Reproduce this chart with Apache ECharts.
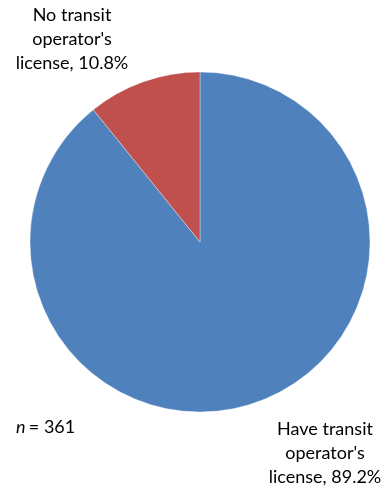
<!DOCTYPE html>
<html>
<head>
<meta charset="utf-8">
<script src="https://cdn.jsdelivr.net/npm/echarts@6/dist/echarts.min.js"></script>
<style>
html,body{margin:0;padding:0;background:#fff;}
#c{width:387px;height:488px;}
</style>
</head>
<body>
<div id="c"></div>
<script>
const categories = ["Have transit\noperator's\nlicense", "No transit\noperator's\nlicense"];
const values = [89.2, 10.8];
const colors = ['#4F81BD', '#C0504D'];
const sampleNote = '361';

const chart = echarts.init(document.getElementById('c'));
const labelPos = [
  {x: 325, y: 453},
  {x: 72, y: 39}
];
chart.setOption({
  animation: false,
  textStyle: {fontFamily: 'Lato'},
  series: [{
    type: 'pie',
    center: [200, 242],
    radius: [0, 170],
    startAngle: 90,
    clockwise: true,
    silent: true,
    data: categories.map((c, i) => ({
      name: c, value: values[i],
      itemStyle: {color: colors[i]}
    })),
    itemStyle: {borderColor: 'rgba(255,255,255,0.6)', borderWidth: 0.6},
    label: {
      show: true,
      position: 'outside',
      formatter: p => p.name + ', ' + p.value.toFixed(1) + '%',
      fontFamily: 'Lato',
      fontSize: 18,
      lineHeight: 24,
      color: '#000',
      align: 'center',
      overflow: 'none'
    },
    labelLine: {show: false},
    labelLayout: function (params) {
      const p = labelPos[params.dataIndex];
      return {x: p.x, y: p.y, align: 'center', verticalAlign: 'middle'};
    }
  }],
  graphic: [{
    type: 'text',
    left: 16,
    top: 418,
    style: {
      rich: {
        i: {fontStyle: 'italic', fontFamily: 'Lato', fontSize: 18},
        r: {fontFamily: 'Lato', fontSize: 18}
      },
      text: '{i|n} {r|= ' + sampleNote + '}',
      fill: '#000'
    }
  }]
});
</script>
</body>
</html>
